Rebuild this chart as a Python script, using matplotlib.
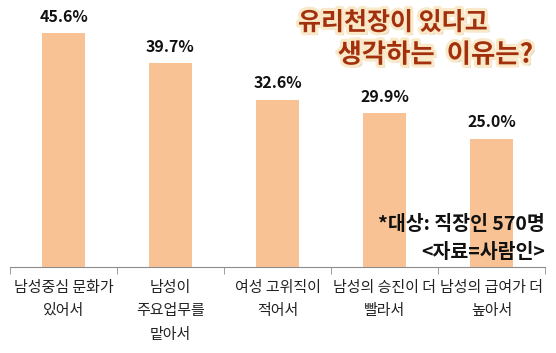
import matplotlib
matplotlib.use("Agg")
import matplotlib.pyplot as plt
import matplotlib.patheffects as pe
import numpy as np

plt.rcParams['font.family'] = ['Noto Sans CJK KR', 'DejaVu Sans']

categorias = ["남성중심 문화가\n있어서", "남성이\n주요업무를\n맡아서", "여성 고위직이\n적어서",
              "남성의 승진이 더\n빨라서", "남성의 급여가 더\n높아서"]
valores = [45.6, 39.7, 32.6, 29.9, 25.0]
rotulos = ["45.6%", "39.7%", "32.6%", "29.9%", "25.0%"]

COR_BARRA = "#f9c295"
TINTA = "#111111"
EIXO = "#8c8c8c"

fig = plt.figure(figsize=(5.56, 3.53), dpi=100, facecolor="white")
ax = fig.add_axes([10 / 556, (353 - 267) / 353, 535 / 556, 267 / 353])

x = np.arange(len(valores))
ax.bar(x, valores, width=0.41, color=COR_BARRA)
for i, (v, r) in enumerate(zip(valores, rotulos)):
    ax.annotate(r, xy=(i, v), xytext=(0, 6), textcoords="offset points",
                ha="center", va="bottom", fontsize=11.5, fontweight="bold", color=TINTA)

ax.set_xlim(-0.5, len(valores) - 0.5)
ax.set_ylim(0, 52)
for lado in ("top", "right", "left"):
    ax.spines[lado].set_visible(False)
ax.spines["bottom"].set_color(EIXO)
ax.set_yticks([])
ax.set_xticks(x)
ax.set_xticklabels(categorias, fontsize=10.8, color="#222222", linespacing=1.85, va="top")
ax.tick_params(axis="x", which="major", length=0, pad=10)
ax.set_xticks(np.arange(-0.5, len(valores)), minor=True)
ax.tick_params(axis="x", which="minor", length=5, color=EIXO, direction="out")

# título com contorno creme e sombra cinza
sombra = [pe.withSimplePatchShadow(offset=(2, -2), shadow_rgbFace="#cfc6b8", alpha=1.0),
          pe.Stroke(linewidth=4.5, foreground="#f9e9c9"), pe.Normal()]
fig.text(298 / 556, 1 - 23 / 353, "유리천장이 있다고", fontsize=18, fontweight="bold",
         color="#a3300d", ha="left", va="center", path_effects=sombra)
fig.text(533 / 556, 1 - 55 / 353, "생각하는  이유는?", fontsize=19, fontweight="bold",
         color="#a3300d", ha="right", va="center", path_effects=sombra)

fig.text(545 / 556, 1 - 225 / 353, "*대상: 직장인 570명", fontsize=14, fontweight="bold",
         color=TINTA, ha="right", va="center")
fig.text(545 / 556, 1 - 252 / 353, "<자료=사람인>", fontsize=14, fontweight="bold",
         color=TINTA, ha="right", va="center")

fig.savefig("out.png", dpi=100, facecolor="white")
